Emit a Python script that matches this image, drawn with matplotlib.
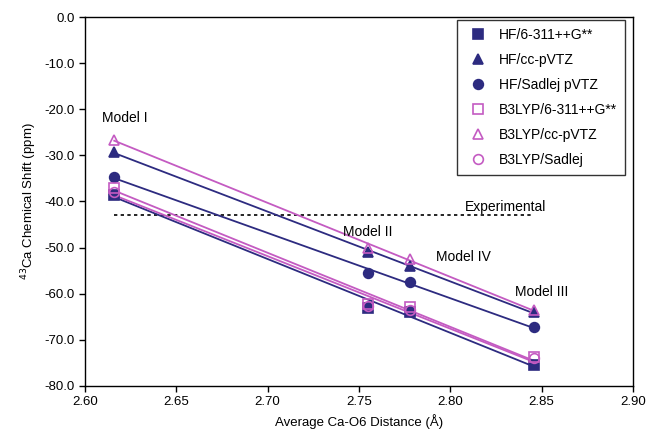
import numpy as np
import matplotlib.pyplot as plt
from matplotlib.ticker import FormatStrFormatter

plt.rcParams['font.family'] = ['Liberation Sans', 'DejaVu Sans']

# Ca-O6 distances for Model I, II, IV, III
distance = [2.616, 2.755, 2.778, 2.846]

# 43Ca chemical shifts (ppm) per method
hf_6311 = [-38.6, -63.1, -64.0, -75.4]
hf_ccpvtz = [-29.3, -51.0, -54.0, -64.0]
hf_sadlej = [-34.7, -55.5, -57.5, -67.2]
b3_6311 = [-37.0, -62.2, -62.8, -73.8]
b3_ccpvtz = [-26.6, -50.0, -52.4, -63.5]
b3_sadlej = [-38.0, -62.6, -63.5, -74.0]

experimental = -43.0

model_names = ['Model I', 'Model II', 'Model IV', 'Model III']

navy = '#2d2b80'
pink = '#c45bc2'

series = [
    ('HF/6-311++G**', hf_6311, 's', navy, navy),
    ('HF/cc-pVTZ', hf_ccpvtz, '^', navy, navy),
    ('HF/Sadlej pVTZ', hf_sadlej, 'o', navy, navy),
    ('B3LYP/6-311++G**', b3_6311, 's', pink, 'none'),
    ('B3LYP/cc-pVTZ', b3_ccpvtz, '^', pink, 'none'),
    ('B3LYP/Sadlej', b3_sadlej, 'o', pink, 'none'),
]

fig = plt.figure(figsize=(6.46, 4.36), dpi=100)
ax = fig.add_axes([0.1316, 0.1147, 0.8483, 0.8463])

x = np.array(distance)
for label, vals, mk, col, fc in series:
    # linear trendline for each series
    slope, icpt = np.polyfit(x, vals, 1)
    xs = np.array([x.min(), x.max()])
    ax.plot(xs, slope * xs + icpt, color=col, lw=1.3, zorder=2)
    ax.plot(x, vals, mk, color=col, mfc=fc, mec=col, mew=1.2, ms=7,
            label=label, zorder=3)

ax.plot([x.min(), x.max()], [experimental, experimental], color='black',
        ls=(0, (2, 2)), lw=1.2, zorder=1)
ax.text(2.808, -41.2, 'Experimental', fontsize=10, va='center', ha='left')

label_pos = [(2.622, -22.0), (2.755, -46.6), (2.807, -52.0), (2.85, -59.6)]
for name, (lx, ly) in zip(model_names, label_pos):
    ax.text(lx, ly, name, fontsize=10, ha='center', va='center')

ax.set_xlim(2.60, 2.90)
ax.set_ylim(-80, 0)
ax.set_xticks(np.arange(2.60, 2.901, 0.05))
ax.set_yticks(np.arange(-80, 0.1, 10))
ax.xaxis.set_major_formatter(FormatStrFormatter('%.2f'))
ax.yaxis.set_major_formatter(FormatStrFormatter('%.1f'))
ax.tick_params(labelsize=9.5, direction='out', length=4, width=1)
for sp in ax.spines.values():
    sp.set_linewidth(1)

ax.set_xlabel('Average Ca-O6 Distance (Å)', fontsize=9.5)
ax.set_ylabel('$^{43}$Ca Chemical Shift (ppm)', fontsize=9.5)

leg = ax.legend(loc='upper right', bbox_to_anchor=(0.985, 0.992),
                borderaxespad=0, fontsize=10, frameon=True, fancybox=False,
                edgecolor='black', borderpad=0.55, labelspacing=0.8,
                handletextpad=0.5, markerscale=1.0)
leg.get_frame().set_linewidth(1)

fig.savefig('out.png', dpi=100)
